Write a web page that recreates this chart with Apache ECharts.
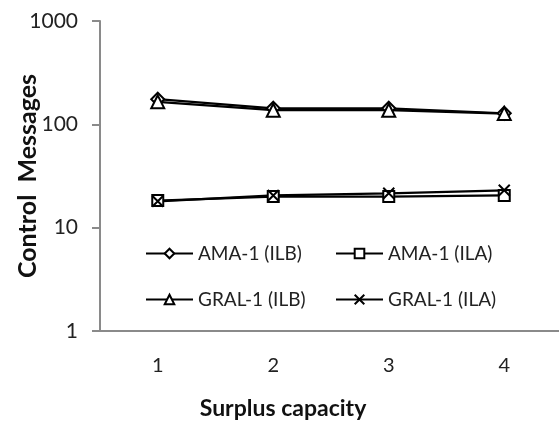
<!DOCTYPE html>
<html>
<head>
<meta charset="utf-8">
<script src="https://cdn.jsdelivr.net/npm/echarts@6/dist/echarts.min.js"></script>
<style>
  html, body { margin: 0; padding: 0; background: #fff; }
  #chart { width: 559px; height: 421px; }
</style>
</head>
<body>
<div id="chart"></div>
<script>
// x categories
const capacity = ['1', '2', '3', '4']
// series values
const amaILB = [175, 143, 143, 128]
const amaILA = [18.3, 20, 20, 20.5]
const gralILB = [165, 137, 137, 127]
const gralILA = [18, 20.5, 21.5, 23]

const FONT = 'Lato'
const crossPath = 'path://M0,0L10,10M10,0L0,10'

let myChart = echarts.init(document.getElementById('chart'))

function mkSeries (name, data, symbol, size) {
  return {
    name: name,
    type: 'line',
    data: data,
    symbol: symbol,
    symbolSize: size,
    showSymbol: true,
    lineStyle: { color: '#000', width: 2.2 },
    itemStyle: { color: '#fff', borderColor: '#000', borderWidth: 2 },
    emphasis: { disabled: true }
  }
}

// 单独的图例，手动摆放成两列
function mkLegend (name, left, top) {
  return {
    data: [name],
    left: left,
    top: top,
    itemWidth: 47,
    itemHeight: 12,
    itemGap: 0,
    textStyle: { fontFamily: FONT, fontSize: 19, color: '#222' }
  }
}

let option = {
  animation: false,
  backgroundColor: '#fff',
  grid: { left: 100, right: -3, top: 21, bottom: 90, outerBoundsMode: 'none' },
  legend: [
    mkLegend('AMA-1 (ILB)', 140, 239),
    mkLegend('AMA-1 (ILA)', 330, 239),
    mkLegend('GRAL-1 (ILB)', 140, 285),
    mkLegend('GRAL-1 (ILA)', 330, 285)
  ],
  xAxis: {
    type: 'category',
    data: capacity,
    boundaryGap: true,
    name: 'Surplus capacity',
    nameLocation: 'middle',
    nameGap: 66,
    nameMoveOverlap: false,
    nameTextStyle: { fontFamily: FONT, fontSize: 23, fontWeight: 'bold', color: '#111', padding: [0, 96, 0, 0] },
    axisLine: { lineStyle: { color: '#8a8a8a', width: 2 } },
    axisTick: { alignWithLabel: true, length: 5, lineStyle: { color: '#8a8a8a', width: 2 } },
    axisLabel: { fontFamily: FONT, fontSize: 20, color: '#222', margin: 25 },
    splitLine: { show: false }
  },
  yAxis: {
    type: 'log',
    logBase: 10,
    min: 1,
    max: 1000,
    name: 'Control  Messages',
    nameLocation: 'middle',
    nameGap: 60,
    nameMoveOverlap: false,
    nameTextStyle: { fontFamily: FONT, fontSize: 25, fontWeight: 'bold', color: '#111' },
    axisLine: { show: true, lineStyle: { color: '#8a8a8a', width: 2 } },
    axisTick: { show: true, length: 8, lineStyle: { color: '#8a8a8a', width: 2 } },
    minorTick: { show: false },
    axisLabel: { fontFamily: FONT, fontSize: 21, color: '#222', margin: 22, formatter: v => String(Math.round(v)) },
    splitLine: { show: false }
  },
  series: [
    mkSeries('AMA-1 (ILB)', amaILB, 'diamond', 13),
    mkSeries('AMA-1 (ILA)', amaILA, 'rect', 11),
    mkSeries('GRAL-1 (ILB)', gralILB, 'triangle', 13),
    mkSeries('GRAL-1 (ILA)', gralILA, crossPath, 11)
  ]
}
myChart.setOption(option)
</script>
</body>
</html>
